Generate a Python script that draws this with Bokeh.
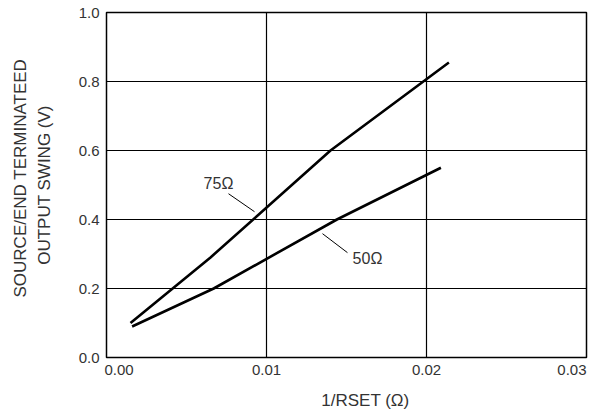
from bokeh.plotting import figure
from bokeh.models import Range1d, FixedTicker, PrintfTickFormatter, Label, Title
from bokeh.embed import file_html
from bokeh.resources import INLINE

# ---- data ----
x_75 = [0.0015, 0.0065, 0.0140, 0.0214]
y_75 = [0.100, 0.290, 0.600, 0.855]
x_50 = [0.0016, 0.0067, 0.0144, 0.0209]
y_50 = [0.090, 0.200, 0.400, 0.550]
x_ticks = [0.00, 0.01, 0.02, 0.03]
x_tick_labels = ["0.00", "0.01", "0.02", "0.03"]
y_ticks = [0.0, 0.2, 0.4, 0.6, 0.8, 1.0]
series_names = ["75Ω", "50Ω"]
x_title = "1/RSET (Ω)"
y_title_lines = ["SOURCE/END TERMINATEED", "OUTPUT SWING (V)"]

FONT = "Liberation Sans"
TXT = "#333333"
FS = "\u2007"   # figure space (digit width)
TS = "\u2009"   # thin space

p = figure(width=592, height=413, output_backend="svg", toolbar_location=None,
           x_range=Range1d(0, 0.03), y_range=Range1d(0, 1.0), title=None,
           min_border_left=106, min_border_right=6, min_border_top=12,
           min_border_bottom=56)
p.background_fill_color = "white"
p.border_fill_color = "white"
p.outline_line_color = "black"
p.outline_line_width = 1.5

# x axis: edge labels padded so they sit inside the frame like the reference
overrides = {}
for i, (xv, lab) in enumerate(zip(x_ticks, x_tick_labels)):
    if i == 0:
        overrides[xv] = FS * 3 + lab
    elif i == len(x_ticks) - 1:
        overrides[xv] = lab + TS * 2
    else:
        overrides[xv] = lab
xax = p.xaxis[0]
xax.ticker = FixedTicker(ticks=x_ticks)
xax.major_label_overrides = overrides
xax.major_tick_in = 0
xax.major_tick_out = 0
xax.minor_tick_in = 0
xax.minor_tick_out = 0
xax.axis_line_color = None
xax.major_label_standoff = 3
xax.major_label_text_font = FONT
xax.major_label_text_font_size = "15px"
xax.major_label_text_color = TXT
xax.axis_label = FS * 4 + x_title
xax.axis_label_standoff = 10
xax.axis_label_text_font = FONT
xax.axis_label_text_font_size = "17px"
xax.axis_label_text_font_style = "normal"
xax.axis_label_text_color = TXT

yax = p.yaxis[0]
yax.ticker = FixedTicker(ticks=y_ticks)
yax.formatter = PrintfTickFormatter(format="%.1f")
yax.major_tick_in = 0
yax.major_tick_out = 0
yax.minor_tick_in = 0
yax.minor_tick_out = 0
yax.axis_line_color = None
yax.major_label_standoff = 7
yax.major_label_text_font = FONT
yax.major_label_text_font_size = "15px"
yax.major_label_text_color = TXT
yax.axis_label = y_title_lines[1]
yax.axis_label_standoff = 22
yax.axis_label_text_font = FONT
yax.axis_label_text_font_size = "17px"
yax.axis_label_text_font_style = "normal"
yax.axis_label_text_color = TXT

p.add_layout(Title(text=y_title_lines[0], align="left", offset=60,
                   text_font=FONT, text_font_size="17px", text_font_style="normal",
                   text_color=TXT, standoff=4), "left")

# grid
p.xgrid.ticker = FixedTicker(ticks=[0.01, 0.02])
p.ygrid.ticker = FixedTicker(ticks=[0.2, 0.4, 0.6, 0.8])
for g in (p.xgrid[0], p.ygrid[0]):
    g.grid_line_color = "black"
    g.grid_line_width = 1.2

# curves
p.line(x_75, y_75, line_color="black", line_width=2.6)
p.line(x_50, y_50, line_color="black", line_width=2.6)

# leader lines
p.segment(x0=[0.007625, 0.0135], y0=[0.4747, 0.3589],
          x1=[0.00925, 0.01506], y1=[0.4226, 0.3039],
          line_color="black", line_width=1)

# series labels
p.add_layout(Label(x=0.00700, y=0.5036, text=series_names[0], text_align="center",
                   text_baseline="middle", text_font=FONT, text_font_size="16px",
                   text_color=TXT))
p.add_layout(Label(x=0.01631, y=0.2865, text=series_names[1], text_align="center",
                   text_baseline="middle", text_font=FONT, text_font_size="16px",
                   text_color=TXT))

open("out.html", "w").write(file_html(p, INLINE))
